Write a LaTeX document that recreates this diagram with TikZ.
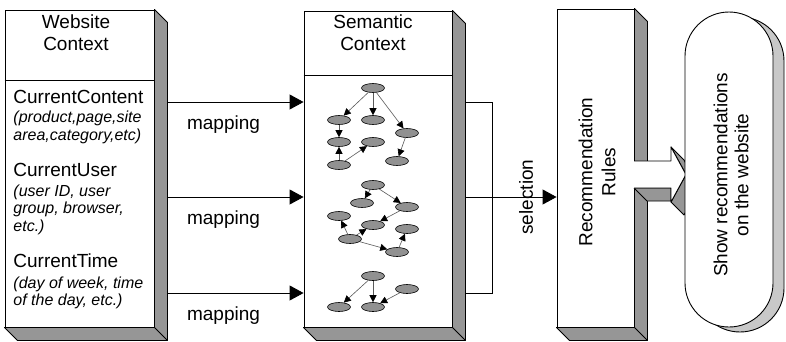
\documentclass[tikz,border=0pt]{standalone}
\usepackage{fontspec}
\setmainfont{Liberation Sans}
\usetikzlibrary{arrows.meta,shapes.geometric,calc}
\definecolor{shade}{RGB}{150,150,150}
\definecolor{bubble}{RGB}{200,200,200}
\definecolor{blobfill}{RGB}{145,145,145}
\definecolor{wire}{RGB}{90,90,90}

\begin{document}
\begin{tikzpicture}[x=1pt,y=-1pt,line width=0.9pt,
	panel/.style={draw,fill=white,rectangle,inner sep=0pt},
	face/.style={draw,fill=shade,line join=round},
	title/.style={font=\fontsize{19}{22}\selectfont,align=center,anchor=base,inner sep=0pt},
	itemlbl/.style={font=\fontsize{19}{22}\selectfont,anchor=base west,inner sep=0pt},
	detail/.style={font=\fontsize{16}{17.5}\selectfont\itshape,anchor=base west,align=left,inner sep=0pt},
	lbl/.style={font=\fontsize{19}{22}\selectfont,inner sep=0pt},
	blob/.style={ellipse,draw,fill=blobfill,minimum width=23pt,minimum height=9pt,inner sep=0pt,line width=0.6pt},
	link/.style={draw=wire,line width=0.6pt,-{Triangle[length=7pt,width=7pt,color=black]}},
	map/.style={-{Triangle[length=14pt,width=15pt]}}]
		\useasboundingbox (0,0) rectangle (786,341);
		
		% the three boxes
		\node[panel,minimum width=149pt,minimum height=317pt] (web) at (79.5,168.5) {};
		\node[panel,minimum width=148pt,minimum height=316pt] (sem) at (378,169) {};
		\node[panel,minimum width=77pt,minimum height=318pt] (rules) at (595.5,168) {};
		
		% 3d sides
		\foreach \b in {web,sem,rules} {
			\filldraw[face] (\b.north east) -- ++(13,13) -- ($(\b.south east)+(13,13)$)
				-- ($(\b.south west)+(13,13)$) -- (\b.south west) -- (\b.south east) -- cycle;
			\draw (\b.south east) -- ++(13,13);
		}
		
		\draw (web.west |- 0,80) -- (web.east |- 0,80);
		\draw (sem.west |- 0,75) -- (sem.east |- 0,75);
		
		\node[title] (webtitle) at (76,50) {Website\\Context};
		\node[title] (semtitle) at (373,50) {Semantic\\Context};
		
		\node[itemlbl] (content) at (13,103) {CurrentContent};
		\node[detail] (contentdet) at (13,140) {(product,page,site\\area,category,etc)};
		\node[itemlbl] (user) at (13,176) {CurrentUser};
		\node[detail] (userdet) at (13,231) {(user ID, user\\group, browser,\\etc.)};
		\node[itemlbl] (time) at (13,267) {CurrentTime};
		\node[detail] (timedet) at (13,305.5) {(day of week, time\\of the day, etc.)};
		
		% mapping
		\coordinate (src1) at (167,102);
		\coordinate (src2) at (167,197);
		\coordinate (src3) at (167,293);
		\draw[map] (src1) -- (src1 -| sem.west);
		\draw[map] (src2) -- (src2 -| sem.west);
		\draw[map] (src3) -- (src3 -| sem.west);
		\node[lbl,anchor=base] (map1) at (223.5,129) {mapping};
		\node[lbl,anchor=base] (map2) at (223.5,224) {mapping};
		\node[lbl,anchor=base] (map3) at (223.5,320) {mapping};
		
		% content graph
		\node[blob] (con1) at (373,88) {};
		\node[blob] (con2) at (339,120) {};
		\node[blob] (con3) at (373,120) {};
		\node[blob] (con4) at (407,133) {};
		\node[blob] (con5) at (339,142) {};
		\node[blob] (con6) at (373,142) {};
		\node[blob] (con7) at (339,165) {};
		\node[blob] (con8) at (397,161) {};
		\draw[link] (con1) -- (con2);
		\draw[link] (con1) -- (con3);
		\draw[link] (con1) -- (con4);
		\draw[link] (con2) -- (con5);
		\draw[link] (con7) -- (con5);
		\draw[link] (con7) -- (con6);
		\draw[link] (con4) -- (con8);
		
		% user graph
		\node[blob] (usr1) at (373,185) {};
		\node[blob] (usr2) at (362,203) {};
		\node[blob] (usr3) at (407,207) {};
		\node[blob] (usr4) at (339,216) {};
		\node[blob] (usr5) at (373,225) {};
		\node[blob] (usr6) at (350,239) {};
		\node[blob] (usr7) at (407,229) {};
		\node[blob] (usr8) at (397,252) {};
		\draw[link] (usr1) -- (usr2);
		\draw[link] (usr1) -- (usr3);
		\draw[link] (usr3) -- (usr5);
		\draw[link] (usr6) -- (usr5);
		\draw[link] (usr6) -- (usr4);
		\draw[link] (usr6) -- (usr8);
		\draw[link] (usr8) -- (usr7);
		
		% time graph
		\node[blob] (tim1) at (373,276) {};
		\node[blob] (tim2) at (339,307) {};
		\node[blob] (tim3) at (373,307) {};
		\node[blob] (tim4) at (407,289) {};
		\draw[link] (tim1) -- (tim2);
		\draw[link] (tim1) -- (tim3);
		\draw[link] (tim4) -- (tim3);
		
		% selection
		\coordinate (selA) at (465,102);
		\coordinate (selB) at (465,293);
		\coordinate (selC) at (465,197);
		\draw (selA) -- ++(27,0) |- (selB);
		\draw[map] (selC) -- (selC -| rules.west);
		\node[lbl,rotate=90] (sel) at (526,197) {selection};
		
		\node[lbl,rotate=90,align=center,font=\fontsize{19}{23}\selectfont] (rultxt) at (597,172) {Recommendation\\Rules};
		
		% block arrow
		\filldraw[face] (634,188) -- (671,188) -- (671,201) -- (647,201) -- cycle;
		\filldraw[face] (671,202) -- (686,174.5) -- (699,187.5) -- (684,215) -- cycle;
		\filldraw[face] (671,147) -- (686,174.5) -- (699,187.5) -- (684,160) -- cycle;
		\fill[white] (633,161) -- (671,161) -- (671,147) -- (686,174.5) -- (671,202) -- (671,188) -- (633,188) -- cycle;
		\draw[line join=round] (634,161) -- (671,161) -- (671,147) -- (686,174.5) -- (671,202) -- (671,188) -- (634,188);
		
		% output
		\node[draw,fill=bubble,minimum width=88pt,minimum height=315pt,rounded corners=44pt] (showbg) at (740,174.5) {};
		\node[draw,fill=white,minimum width=88pt,minimum height=315pt,rounded corners=44pt] (show) at (729,169.5) {};
		\node[lbl,rotate=90,align=center,font=\fontsize{19}{21}\selectfont] (showtxt) at (731,175) {Show recommendations\\on the website};
\end{tikzpicture}
\end{document}
